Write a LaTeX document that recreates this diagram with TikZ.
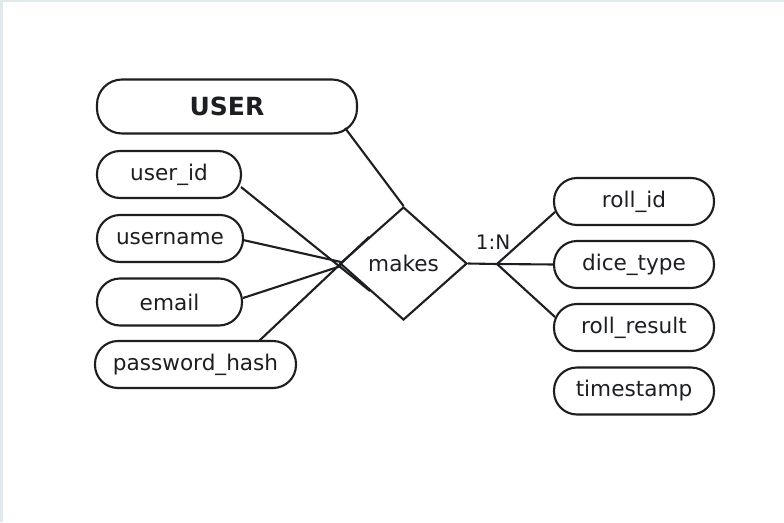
\documentclass[tikz,border=0pt]{standalone}
\usepackage{fontspec}
\setmainfont{DejaVu Sans}
\usetikzlibrary{shapes.geometric}
\definecolor{ink}{HTML}{1C1E21}
\definecolor{edge}{HTML}{E2E9EC}
\tikzset{
  attr/.style={draw=ink, line width=2.1pt, rounded corners=23pt, minimum height=47pt, inner sep=0pt, text=ink, font=\fontsize{21.6}{24}\selectfont},
  ent/.style={draw=ink, line width=2.1pt, rounded corners=25pt, minimum height=54pt, minimum width=260pt, inner sep=0pt, text=ink, font=\fontsize{25}{28}\selectfont\bfseries},
  rel/.style={draw=ink, line width=2.1pt, diamond, minimum width=127pt, minimum height=113pt, inner sep=0pt, text=ink, font=\fontsize{21.6}{24}\selectfont},
  link/.style={draw=ink, line width=2.1pt},
  card/.style={text=ink, inner sep=0pt, font=\fontsize{20}{24}\selectfont}
}
\begin{document}
\begin{tikzpicture}[x=1pt,y=-1pt]
\useasboundingbox[fill=white] (0,0) rectangle (784,522);
\fill[edge] (0,0) rectangle (3,522);
\fill[edge] (0,0) rectangle (784,1.5);

\node[ent] (user) at (227,106.5) {USER};
\node[attr, minimum width=144pt] (uid) at (169,174.5) {user\_id};
\node[attr, minimum width=146pt] (uname) at (170,238.5) {username};
\node[attr, minimum width=145pt] (email) at (169.5,302) {email};
\node[attr, minimum width=201pt] (pw) at (195.5,364.5) {password\_hash};

\node[rel] (makes) at (403.5,263.5) {makes};

\node[attr, minimum width=160pt] (rid) at (634,201.5) {roll\_id};
\node[attr, minimum width=160pt] (dtype) at (634,264.5) {dice\_type};
\node[attr, minimum width=160pt] (rres) at (634,327.5) {roll\_result};
\node[attr, minimum width=160pt] (ts) at (634,391) {timestamp};

\node[card] (card) at (493,242) {1:N};

% endpoints
\coordinate (uS) at (345,128);
\coordinate (idS) at (241,187);
\coordinate (idE) at (370,291);
\coordinate (unS) at (243,240);
\coordinate (unE) at (341,262);
\coordinate (emS) at (243,298);
\coordinate (emE) at (341,266);
\coordinate (pwS) at (259,341);
\coordinate (pwE) at (369,237);
\coordinate (jn) at (497,264);
\coordinate (ridE) at (555,212);
\coordinate (dtE) at (554,264.5);
\coordinate (rrE) at (555,317);

\draw[link] (uS) -- (makes.north);
\draw[link] (idS) -- (idE);
\draw[link] (unS) -- (unE);
\draw[link] (emS) -- (emE);
\draw[link] (pwS) -- (pwE);
\draw[link] (makes.east) -- (jn);
\draw[link] (jn) -- (ridE);
\draw[link] (jn) -- (dtE);
\draw[link] (jn) -- (rrE);
\end{tikzpicture}
\end{document}
